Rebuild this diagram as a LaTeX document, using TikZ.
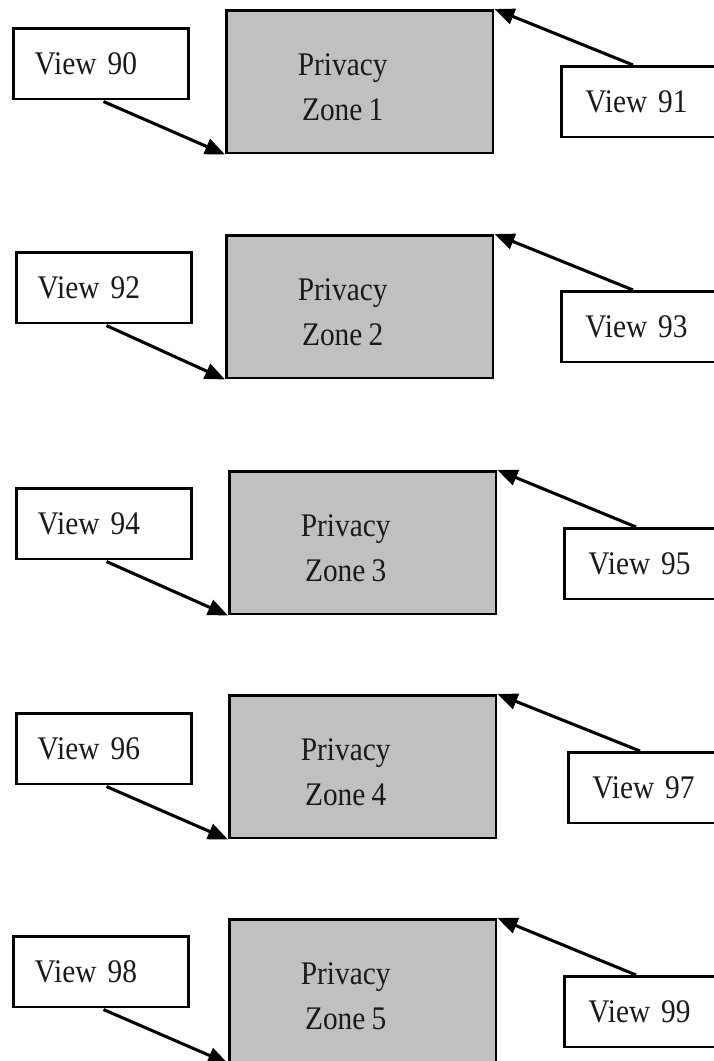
\documentclass[tikz,border=0pt]{standalone}
\usepackage{fontspec}
\setmainfont{Liberation Serif}
\newfontfamily\viewfont[FakeStretch=0.89,WordSpace=0.85]{Liberation Serif}
\usepackage{tikz}
\usetikzlibrary{calc,arrows.meta,positioning}
\definecolor{zonec}{HTML}{C0C0C0}
\definecolor{linec}{HTML}{000000}
\definecolor{textc}{HTML}{1A1A1A}
\tikzset{
  ar/.style={-{Triangle[length=15pt,width=12pt]},line width=2.3pt,linec},
  zone/.style={draw=linec,line width=2.1pt,fill=zonec,anchor=north west,
    minimum width=200pt,minimum height=107pt,inner sep=0pt},
  ztext/.style={align=center,text=textc,
    font=\viewfont\fontsize{24.75}{33.75}\selectfont},
  viewl/.style={draw=linec,line width=2.1pt,fill=white,anchor=north west,
    text width=99.5pt,align=left,inner xsep=16pt,minimum height=53pt,
    text=textc,font=\viewfont\fontsize{24.75}{28}\selectfont},
  viewr/.style={viewl,text width=100pt,inner xsep=18pt}
}
\begin{document}
\begin{tikzpicture}[x=0.75pt,y=-0.75pt]
\path[use as bounding box,clip] (0,0) rectangle (714,1061);
\fill[white] (0,0) rectangle (714,1061);
% row 1
\node[zone] (z1) at (225,9) {};
\node[ztext] (t1) at ($(z1.center)+(-17,5)$) {Privacy\\Zone 1};
\node[viewl] (v90) at (12,27) {View 90};
\node[viewr] (v91) at (560,65) {View 91};
\coordinate (s91) at ($(v91.north west)+(73,0)$);
\draw[ar,shorten <=2pt] (v90.south) -- (z1.south west);
\draw[ar] (s91) -- (z1.north east);
% row 2
\node[zone] (z2) at (225,234) {};
\node[ztext] (t2) at ($(z2.center)+(-17,5)$) {Privacy\\Zone 2};
\node[viewl] (v92) at (15,251) {View 92};
\node[viewr] (v93) at (560,290) {View 93};
\coordinate (s93) at ($(v93.north west)+(73,0)$);
\draw[ar,shorten <=2pt] (v92.south) -- (z2.south west);
\draw[ar] (s93) -- (z2.north east);
% row 3
\node[zone] (z3) at (228,470) {};
\node[ztext] (t3) at ($(z3.center)+(-17,5)$) {Privacy\\Zone 3};
\node[viewl] (v94) at (15,487) {View 94};
\node[viewr] (v95) at (563,527) {View 95};
\coordinate (s95) at ($(v95.north west)+(73,0)$);
\draw[ar,shorten <=2pt] (v94.south) -- (z3.south west);
\draw[ar] (s95) -- (z3.north east);
% row 4
\node[zone] (z4) at (228,694) {};
\node[ztext] (t4) at ($(z4.center)+(-17,5)$) {Privacy\\Zone 4};
\node[viewl] (v96) at (15,712) {View 96};
\node[viewr] (v97) at (567,751) {View 97};
\coordinate (s97) at ($(v97.north west)+(73,0)$);
\draw[ar,shorten <=2pt] (v96.south) -- (z4.south west);
\draw[ar] (s97) -- (z4.north east);
% row 5
\node[zone] (z5) at (228,918) {};
\node[ztext] (t5) at ($(z5.center)+(-17,5)$) {Privacy\\Zone 5};
\node[viewl] (v98) at (12,935) {View 98};
\node[viewr] (v99) at (563,975) {View 99};
\coordinate (s99) at ($(v99.north west)+(73,0)$);
\draw[ar,shorten <=2pt] (v98.south) -- (z5.south west);
\draw[ar] (s99) -- (z5.north east);
\end{tikzpicture}
\end{document}
